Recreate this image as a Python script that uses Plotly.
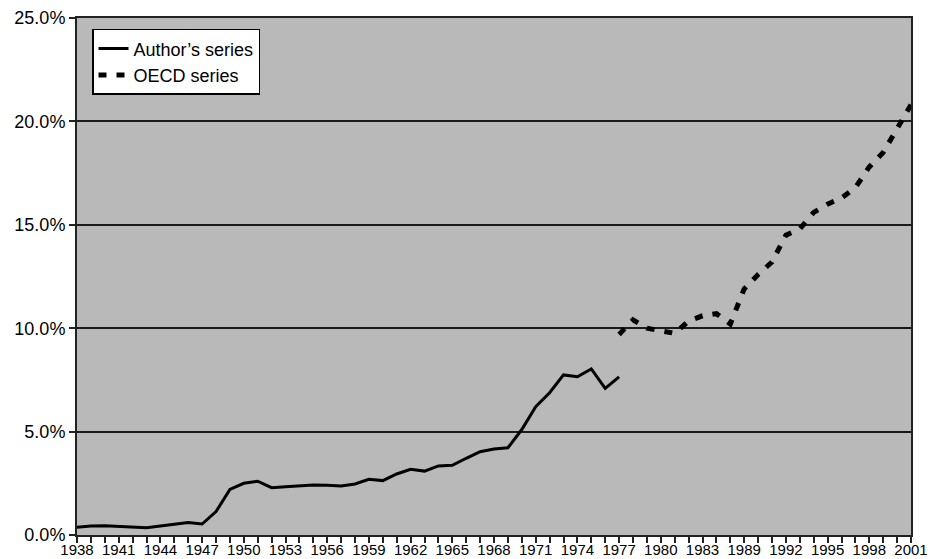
import plotly.graph_objects as go

# Category labels (the axis jumps from 1985 to 1989)
years = [str(y) for y in range(1938, 1986)] + [str(y) for y in range(1989, 2002)]

# Author's series, 1938-1977 (percent)
author_values = [0.38, 0.44, 0.45, 0.42, 0.37, 0.35, 0.43, 0.52, 0.60, 0.53,
                 1.13, 2.20, 2.50, 2.60, 2.29, 2.33, 2.38, 2.42, 2.40, 2.37,
                 2.47, 2.69, 2.63, 2.95, 3.18, 3.09, 3.34, 3.37, 3.71, 4.03,
                 4.16, 4.22, 5.10, 6.20, 6.88, 7.74, 7.65, 8.03, 7.09, 7.65]

# OECD series, 1977 onward (percent)
oecd_values = [9.70, 10.40, 10.00, 9.85, 9.75, 10.35, 10.60, 10.70, 10.20, 11.90,
               12.60, 13.20, 14.50, 14.80, 15.60, 16.00, 16.30, 16.80, 17.80, 18.50,
               19.60, 20.80]

y_ticks = [0, 5, 10, 15, 20, 25]

n = len(years)
idx = list(range(n))
author_full = author_values + [None] * (n - len(author_values))
oecd_start = len(author_values) - 1
oecd_full = [None] * oecd_start + oecd_values + [None] * (n - oecd_start - len(oecd_values))

FONT = "Liberation Sans, Arial, sans-serif"

fig = go.Figure()
fig.add_trace(go.Scatter(x=idx, y=author_full, mode="lines", name="Author\u2019s series",
                         line=dict(color="black", width=3)))
fig.add_trace(go.Scatter(x=idx, y=oecd_full, mode="lines", name="OECD series",
                         line=dict(color="black", width=5, dash="8px,10px")))

label_idx = list(range(0, n, 3))
fig.update_xaxes(range=[0, n - 1], tickmode="array", tickvals=label_idx,
                 ticktext=[years[i] for i in label_idx], tickangle=0, automargin=False,
                 ticks="", ticklabeloverflow="allow",
                 minor=dict(tickmode="array", tickvals=idx, ticks="outside", ticklen=6,
                            tickwidth=1.5, tickcolor="#222"),
                 showgrid=False, zeroline=False, showline=True, linecolor="#222",
                 linewidth=2, mirror=True,
                 tickfont=dict(family=FONT, size=15, color="black"))
fig.update_yaxes(range=[0, 25], tickmode="array", tickvals=y_ticks,
                 ticktext=[f"{v:.1f}%" for v in y_ticks], automargin=False,
                 ticks="outside", ticklen=6, tickwidth=1.5, tickcolor="#222",
                 showgrid=True, gridcolor="#1a1a1a", gridwidth=2, zeroline=False,
                 showline=True, linecolor="#222", linewidth=2, mirror=True,
                 tickfont=dict(family=FONT, size=18, color="black"))

fig.update_layout(
    width=928, height=559,
    margin=dict(l=77, r=17, t=18, b=24),
    paper_bgcolor="white", plot_bgcolor="#b9b9b9",
    showlegend=True,
    legend=dict(x=0.018, y=0.979, xanchor="left", yanchor="top",
                bgcolor="white", bordercolor="black", borderwidth=1.5,
                font=dict(family=FONT, size=18, color="black"),
                tracegroupgap=0),
)

fig.write_html("out.html")
